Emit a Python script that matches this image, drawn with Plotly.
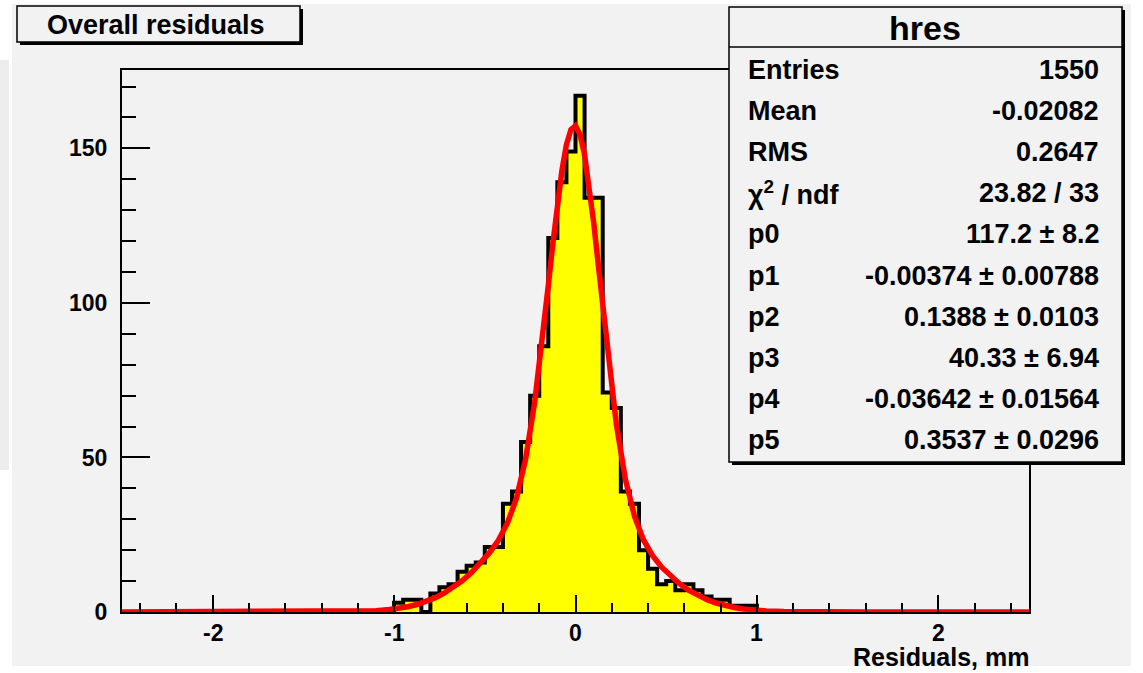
import plotly.graph_objects as go

# ---------------- data ----------------
hist_lo = -1.0          # left edge of first listed bin
bin_width = 0.05
x_range = [-2.5, 2.5]
counts = [3, 4, 4, 0, 6, 8, 9, 13, 15, 16,
          21, 21, 35, 39, 55, 70, 86, 121, 139, 149,
          167, 134, 134, 71, 66, 39, 35, 20, 14, 9,
          10, 7, 9, 7, 5, 4, 4, 2, 2, 2]

# red fitted curve (x, y)
curve_x = [-2.5, -2.0, -1.5, -1.3, -1.2, -1.1, -1.025, -0.975, -0.925, -0.875, -0.825,
           -0.775, -0.725, -0.675, -0.625, -0.575, -0.525, -0.475, -0.425, -0.375,
           -0.325, -0.275, -0.225, -0.2, -0.175, -0.15, -0.125, -0.1, -0.075, -0.05,
           -0.025, 0.0, 0.025, 0.05, 0.075, 0.1, 0.125, 0.15, 0.175, 0.2, 0.225,
           0.275, 0.325, 0.375, 0.425, 0.475, 0.525, 0.575, 0.625, 0.675, 0.725,
           0.775, 0.825, 0.875, 0.925, 0.975, 1.05, 1.15, 1.3, 1.6, 2.0, 2.5]
curve_y = [0.0, 0.0, 0.01, 0.07, 0.18, 0.44, 0.81, 1.19, 1.72, 2.42, 3.36,
           4.56, 6.07, 7.92, 10.1, 12.7, 15.6, 19.1, 23.2, 28.8,
           36.9, 49.5, 67.9, 79.4, 92.1, 105.6, 119.1, 131.8, 142.8, 151.2,
           156.1, 157.3, 154.4, 147.9, 138.2, 126.1, 112.6, 98.6, 84.9, 72.2, 60.8,
           43.0, 31.0, 23.3, 18.2, 14.5, 11.5, 9.07, 7.0, 5.34, 3.98,
           2.9, 2.08, 1.46, 1.0, 0.68, 0.36, 0.15, 0.03, 0.0, 0.0, 0.0]

y_max = 175.35
x_ticks = [-2, -1, 0, 1, 2]
y_ticks = [0, 50, 100, 150]

title_text = "Overall residuals"
xaxis_title = "Residuals, mm"
stats_title = "hres"
stat_labels = ["Entries", "Mean", "RMS", "χ<sup>2</sup> / ndf",
               "p0", "p1", "p2", "p3", "p4", "p5"]
stat_values = ["1550", "-0.02082", "0.2647", "23.82 / 33",
               "117.2 ± 8.2", "-0.00374 ± 0.00788", "0.1388 ± 0.0103",
               "40.33 ± 6.94", "-0.03642 ± 0.01564", "0.3537 ± 0.0296"]

# ---------------- build histogram step line over full range ----------------
n_full = int(round((x_range[1] - x_range[0]) / bin_width))
start = int(round((hist_lo - x_range[0]) / bin_width))
full = [0] * n_full
for i, c in enumerate(counts):
    full[start + i] = c
edges = [x_range[0] + i * bin_width for i in range(n_full + 1)]
hx = edges
hy = full + [full[-1]]

# ---------------- geometry helpers (pixels -> paper) ----------------
W, H = 1143, 673
L, R, T, B = 122, 1029, 70, 612


def px(x):
    return (x - L) / (R - L)


def py(y):
    return (B - y) / (B - T)


FONT = "Liberation Sans, Arial, Helvetica, sans-serif"

fig = go.Figure()
fig.add_trace(go.Scatter(
    x=hx, y=hy, mode="lines", line=dict(shape="hv", color="black", width=4),
    fill="tozeroy", fillcolor="#ffff00", hoverinfo="skip", cliponaxis=False,
    showlegend=False))
fig.add_trace(go.Scatter(
    x=curve_x, y=curve_y, mode="lines", line=dict(color="#ff0000", width=5.5),
    hoverinfo="skip", cliponaxis=False, showlegend=False))

shapes = []
# canvas panel
shapes.append(dict(type="rect", xref="paper", yref="paper", layer="below",
                   x0=px(12), x1=px(1131), y0=py(666), y1=py(4),
                   fillcolor="#f2f2f2", line=dict(width=0)))
shapes.append(dict(type="rect", xref="paper", yref="paper", layer="below",
                   x0=px(0), x1=px(9), y0=py(470), y1=py(60),
                   fillcolor="#ededed", line=dict(width=0)))
# title box with shadow
shapes.append(dict(type="rect", xref="paper", yref="paper", layer="above",
                   x0=px(20), x1=px(303), y0=py(45), y1=py(9),
                   fillcolor="black", line=dict(width=0)))
shapes.append(dict(type="rect", xref="paper", yref="paper", layer="above",
                   x0=px(17), x1=px(300), y0=py(42), y1=py(6),
                   fillcolor="#f2f2f2", line=dict(color="black", width=1.5)))
# stats box with shadow
shapes.append(dict(type="rect", xref="paper", yref="paper", layer="above",
                   x0=px(732), x1=px(1125), y0=py(465), y1=py(10),
                   fillcolor="black", line=dict(width=0)))
shapes.append(dict(type="rect", xref="paper", yref="paper", layer="above",
                   x0=px(729), x1=px(1122), y0=py(462), y1=py(7),
                   fillcolor="#f2f2f2", line=dict(color="black", width=1.5)))
shapes.append(dict(type="line", xref="paper", yref="paper", layer="above",
                   x0=px(729), x1=px(1122), y0=py(47), y1=py(47),
                   line=dict(color="black", width=1.5)))

annotations = []
annotations.append(dict(xref="paper", yref="paper", x=px(45), y=py(25),
                        xanchor="left", yanchor="middle", showarrow=False,
                        text="<b>" + title_text + "</b>",
                        font=dict(family=FONT, size=27, color="black")))
annotations.append(dict(xref="paper", yref="paper", x=px(925), y=py(28),
                        xanchor="center", yanchor="middle", showarrow=False,
                        text="<b>" + stats_title + "</b>",
                        font=dict(family=FONT, size=34, color="black")))
for i, (lab, val) in enumerate(zip(stat_labels, stat_values)):
    yy = 70 + 41.1 * i
    annotations.append(dict(xref="paper", yref="paper", x=px(746), y=py(yy),
                            xanchor="left", yanchor="middle", showarrow=False,
                            text="<b>" + lab + "</b>",
                            font=dict(family=FONT, size=27, color="black")))
    annotations.append(dict(xref="paper", yref="paper", x=px(1101), y=py(yy),
                            xanchor="right", yanchor="middle", showarrow=False,
                            text="<b>" + val + "</b>",
                            font=dict(family=FONT, size=27, color="black")))
# x tick labels placed on the data axis
for v in x_ticks:
    annotations.append(dict(xref="x", yref="paper", x=v, y=py(633),
                            xanchor="center", yanchor="middle", showarrow=False,
                            text="<b>" + str(v) + "</b>", borderpad=0,
                            font=dict(family=FONT, size=23, color="black")))
annotations.append(dict(xref="paper", yref="paper", x=px(1030), y=py(657),
                        xanchor="right", yanchor="middle", showarrow=False,
                        text="<b>" + xaxis_title + "</b>", borderpad=0,
                        font=dict(family=FONT, size=25, color="black")))

fig.update_layout(
    width=W, height=H, autosize=False,
    margin=dict(l=L, r=W - R, t=T, b=H - B, pad=0),
    paper_bgcolor="white", plot_bgcolor="rgba(0,0,0,0)",
    shapes=shapes, annotations=annotations, showlegend=False,
    xaxis=dict(range=x_range, showgrid=False, zeroline=False,
               showline=True, mirror=True, linecolor="black", linewidth=2,
               ticks="inside", ticklen=17, tickwidth=2, tickcolor="black",
               tickvals=x_ticks, showticklabels=False,
               minor=dict(dtick=0.2, tick0=0, ticks="inside", ticklen=9,
                          tickwidth=2, tickcolor="black", showgrid=False)),
    yaxis=dict(range=[0, y_max], showgrid=False, zeroline=False,
               showline=True, mirror=True, linecolor="black", linewidth=2,
               ticks="inside", ticklen=28, tickwidth=2, tickcolor="black",
               tickvals=y_ticks, ticktext=[str(v) for v in y_ticks],
               ticklabelstandoff=8,
               tickfont=dict(family=FONT, size=23, color="black", weight="bold"),
               minor=dict(dtick=10, tick0=0, ticks="inside", ticklen=14,
                          tickwidth=2, tickcolor="black", showgrid=False)),
)

fig.write_html("out.html")
